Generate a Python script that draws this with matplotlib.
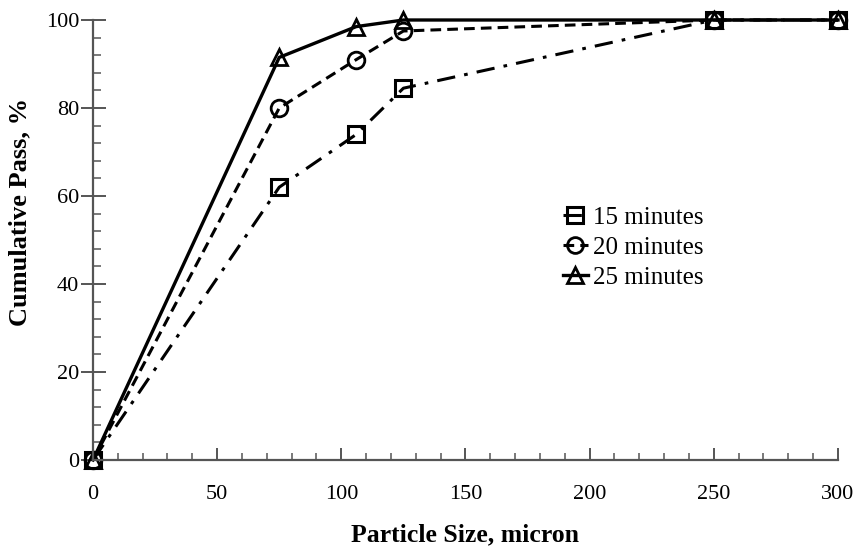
import matplotlib
matplotlib.use("Agg")
import matplotlib.pyplot as plt
from matplotlib.ticker import MultipleLocator

size = [0, 75, 106, 125, 250, 300]
pass_15 = [0, 62, 74, 84.5, 100, 100]
pass_20 = [0, 80, 91, 97.5, 100, 100]
pass_25 = [0, 91.5, 98.5, 100, 100, 100]
labels = ["15 minutes", "20 minutes", "25 minutes"]

plt.rcParams['font.family'] = ['Liberation Serif', 'DejaVu Serif']

fig = plt.figure(figsize=(8.62, 5.47), dpi=100)
ax = fig.add_axes([93/862, 1 - 460/547, (838 - 93)/862, (460 - 20)/547])

ax.plot(size, pass_15, color='black', lw=2.2, ls=(0, (6, 3, 1.2, 3)), marker='s',
        ms=12, mfc='none', mec='black', mew=2.2, label=labels[0], clip_on=False)
ax.plot(size, pass_20, color='black', lw=2.2, ls=(0, (3.5, 2)), marker='o',
        ms=12, mfc='none', mec='black', mew=2.0, label=labels[1], clip_on=False)
ax.plot(size, pass_25, color='black', lw=2.4, ls='-', marker='^',
        ms=12, mfc='none', mec='black', mew=2.0, label=labels[2], clip_on=False)

ax.set_xlim(0, 300)
ax.set_ylim(0, 100)
ax.xaxis.set_major_locator(MultipleLocator(50))
ax.xaxis.set_minor_locator(MultipleLocator(10))
ax.yaxis.set_major_locator(MultipleLocator(20))
ax.yaxis.set_minor_locator(MultipleLocator(4))
ax.spines['top'].set_visible(False)
ax.spines['right'].set_visible(False)
for s in ['left', 'bottom']:
    ax.spines[s].set_color('#555555')
    ax.spines[s].set_linewidth(1.6)
ax.tick_params(axis='x', which='major', direction='in', length=9, width=1.4, colors='#555555',
               labelcolor='black', labelsize=16, pad=18)
ax.tick_params(axis='x', which='minor', direction='in', length=5, width=1.1, colors='#555555')
ax.tick_params(axis='y', which='major', direction='inout', length=18, width=1.4, colors='#555555',
               labelcolor='black', labelsize=16, pad=1)
ax.tick_params(axis='y', which='minor', direction='in', length=6, width=1.1, colors='#555555')

ax.set_xlabel("Particle Size, micron", fontsize=18.5, fontweight='bold', labelpad=14)
ax.set_ylabel("Cumulative Pass, %", fontsize=19, fontweight='bold')
ax.yaxis.set_label_coords(-0.083, (460 - 212) / 440)

leg = ax.legend(loc='upper left', bbox_to_anchor=(0.614, 0.605), frameon=False, fontsize=18,
                handlelength=1.0, handletextpad=0.2, labelspacing=0.3, borderpad=0,
                markerscale=0.95)

fig.savefig("out.png", dpi=100)
